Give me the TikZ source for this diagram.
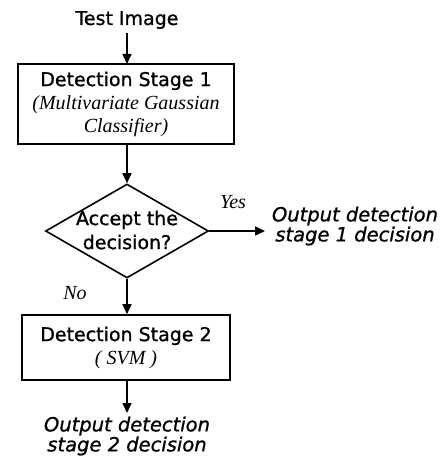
\documentclass[tikz,border=0pt]{standalone}
\usepackage{fontspec}
\setmainfont{Liberation Serif}
\newfontfamily\comic[FakeBold=1]{DejaVu Sans}
\usetikzlibrary{shapes.geometric,arrows.meta}
\begin{document}
\begin{tikzpicture}[x=1pt,y=-1pt]
\tikzset{every node/.style={inner sep=0pt,align=center}}
\tikzset{stage/.style={draw,line width=1.6pt,minimum width=#1,font=\comic\fontsize{19}{23}\selectfont}}
\tikzset{decision/.style={draw,diamond,line width=1.6pt,minimum width=163pt,minimum height=94pt}}
\tikzset{flow/.style={-{Triangle[length=10pt,width=9pt]},line width=1.6pt}}
\tikzset{label/.style={font=\itshape\fontsize{20}{22}\selectfont}}
\tikzset{result/.style={font=\comic\itshape\fontsize{19.5}{20}\selectfont}}
\newcommand\sub{\rmfamily\itshape\fontsize{20}{23}\selectfont}
\useasboundingbox (0,0) rectangle (443,460);
\node[font=\comic\fontsize{19}{22}\selectfont] (test) at (127,20) {Test Image};
\node[stage=216pt,minimum height=80pt] (det1) at (126,104)
    {Detection Stage 1\\{\sub (Multivariate Gaussian}\\{\sub Classifier)}};
\node[decision] (dec) at (127,231) {};
\node[font=\comic\fontsize{19}{24}\selectfont] (dectext) at (127,230) {Accept the\\decision?};
\node[stage=208pt,minimum height=65pt] (det2) at (126,347.5)
    {Detection Stage 2\\{\sub ( SVM )}};
\node[result] (out1) at (355,226) {Output detection\\stage 1 decision};
\node[result] (out2) at (127,436) {Output detection\\stage 2 decision};
\node[label] (yes) at (233,202) {Yes};
\node[label] (no) at (75,293) {No};
% connectors
\draw[flow] (127,33) -- (127,64);
\draw[flow] (det1.south -| dec.north) -- (dec.north);
\draw[flow] (dec.east) -- (265,231);
\draw[flow] (dec.south) -- (det2.north -| dec.south);
\draw[flow] (det2.south -| dec.south) -- (127,413);
\end{tikzpicture}
\end{document}
